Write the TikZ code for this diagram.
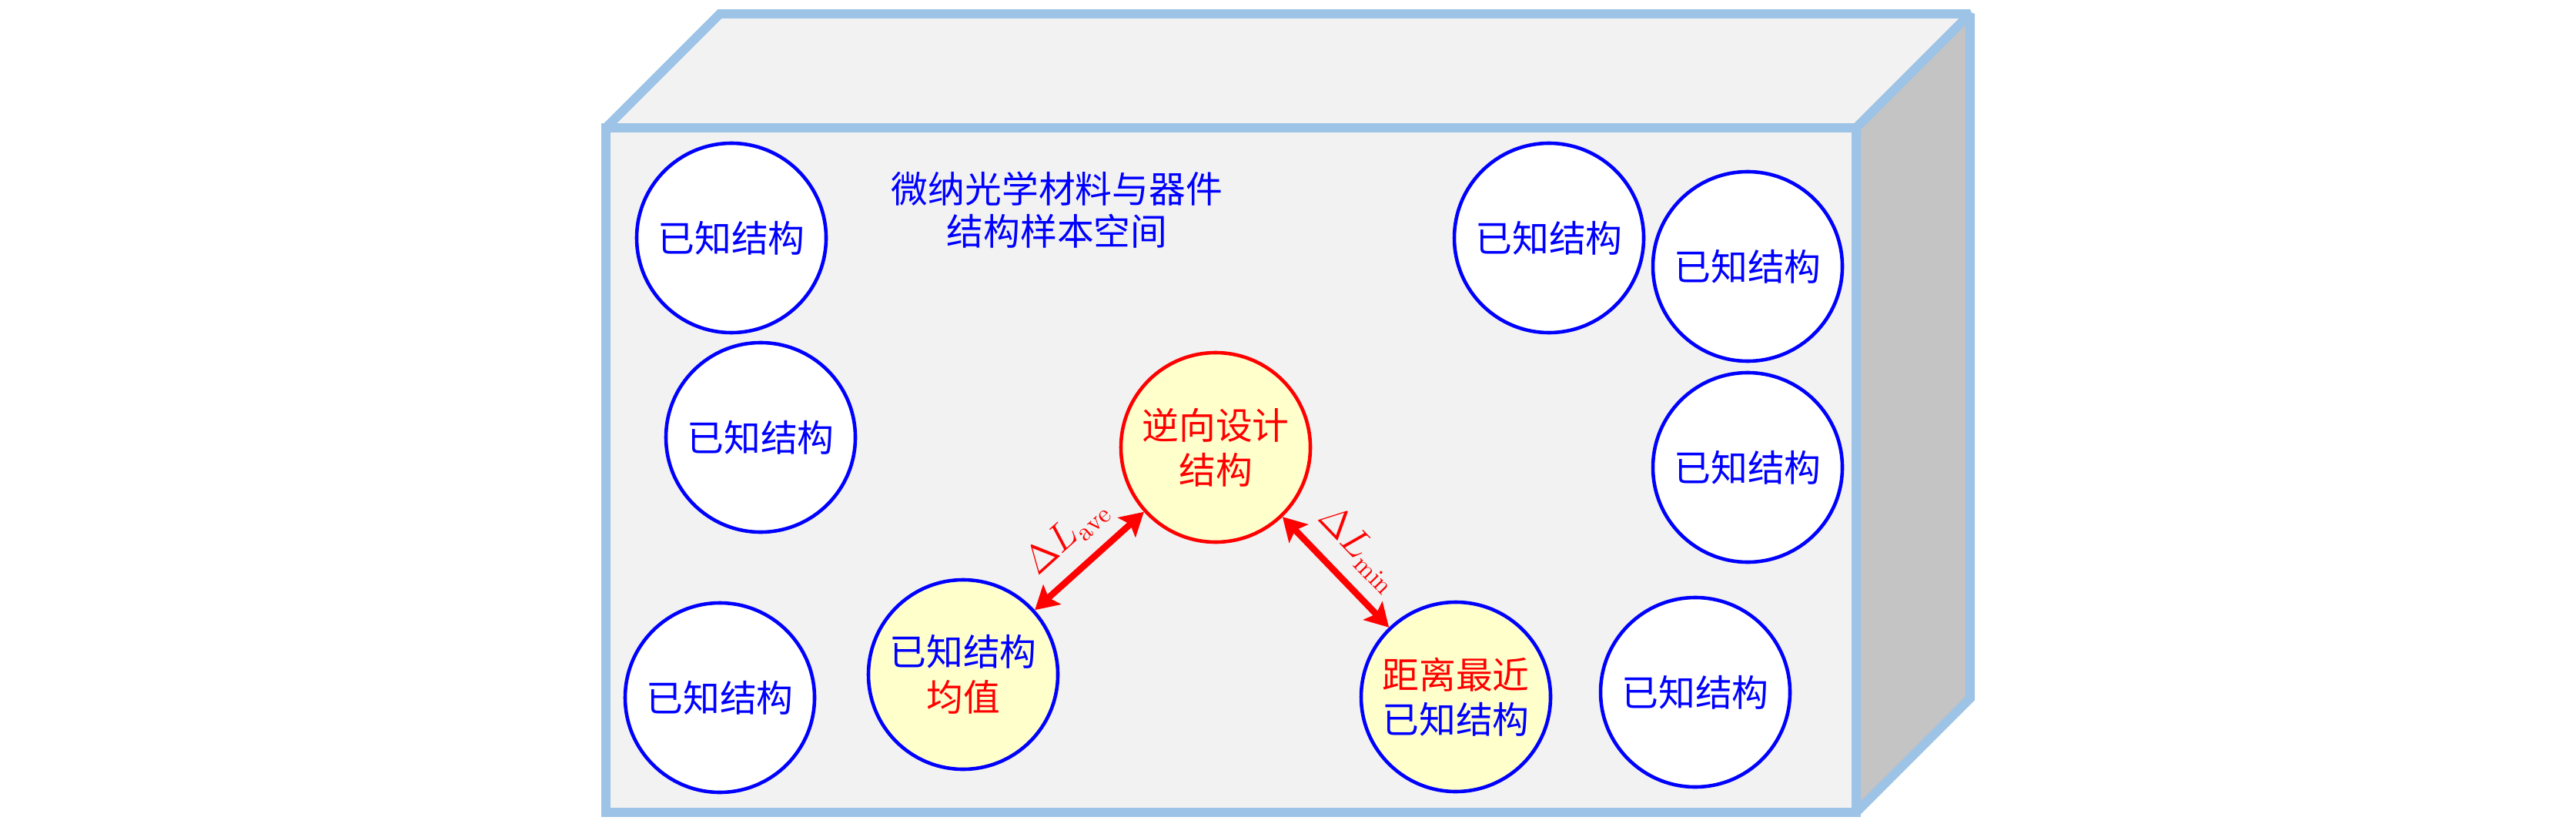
\documentclass[tikz,border=0pt]{standalone}
\usepackage{fontspec}
\newfontfamily\cjk{Noto Sans CJK SC}
\usepackage{amsmath}
\usetikzlibrary{arrows.meta}
\definecolor{boxedge}{RGB}{157,195,230}
\definecolor{boxface}{RGB}{242,242,242}
\definecolor{boxside}{RGB}{196,196,196}
\definecolor{pale}{RGB}{255,255,204}

\begin{document}
\begin{tikzpicture}[-,>={Stealth[length=3mm,width=3.4mm,inset=0.6mm]},auto,
                    font=\cjk\fontsize{13.6pt}{16.6pt}\selectfont]
  \tikzstyle{wall}=[draw=boxedge,line width=3.4pt,miter limit=2]
  \tikzstyle{known}=[circle,draw=blue,fill=white,text=blue,line width=1.3pt,
                     minimum size=2.46cm,inner sep=0pt,align=center]
  \tikzstyle{picked}=[known,fill=pale]
  \tikzstyle{design}=[picked,draw=red,text=red]
  \tikzstyle{dist}=[<->,draw=red,line width=2.4pt]

  \useasboundingbox (0,0) rectangle (33.46,10.73);

  % sample space box
  \path[wall,fill=boxface] (7.87,9.07) -- (9.35,10.55) -- (25.59,10.55) -- (24.11,9.07) -- cycle;
  \path[wall,fill=boxside] (24.11,9.07) -- (25.59,10.55) -- (25.59,1.66) -- (24.11,0.18) -- cycle;
  \path[wall,fill=boxface] (7.87,0.18) rectangle (24.11,9.07);

  \node (space) at (13.73,8.0) [text=blue,align=center,
        font=\cjk\fontsize{13.6pt}{15.6pt}\selectfont] {微纳光学材料与器件\\结构样本空间};

  \node[known] (k1)  at (9.50,7.64)  {已知结构};
  \node[known] (k2)  at (9.88,5.05)  {已知结构};
  \node[known] (k3)  at (9.35,1.67)  {已知结构};
  \node[known] (k4)  at (20.12,7.64) {已知结构};
  \node[known] (k5)  at (22.70,7.27) {已知结构};
  \node[known] (k6)  at (22.70,4.66) {已知结构};
  \node[known] (k7)  at (22.02,1.74) {已知结构};
  \node[picked] (avg) at (12.51,1.97) {已知结构\\\textcolor{red}{均值}};
  \node[design] (inv) at (15.79,4.92) {逆向设计\\结构};
  \node[picked] (near) at (18.91,1.68) {\textcolor{red}{距离最近}\\已知结构};

  \path (avg) edge[dist] node[sloped,text=red,inner sep=5pt] {$\Delta L_{\mathrm{ave}}$} (inv)
        (inv) edge[dist] node[sloped,text=red,inner sep=5pt] {$\Delta L_{\mathrm{min}}$} (near);
\end{tikzpicture}
\end{document}
